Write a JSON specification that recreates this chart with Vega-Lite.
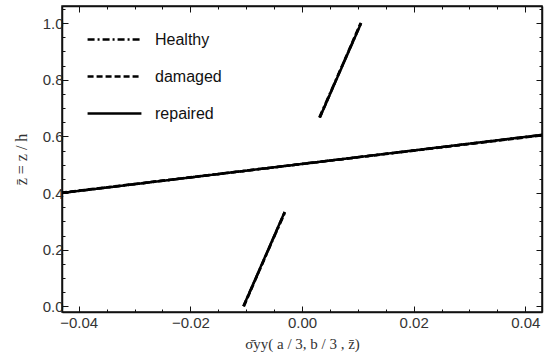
{
  "$schema": "https://vega.github.io/schema/vega-lite/v6.json",
  "width": 480,
  "height": 306,
  "autosize": {"type": "none"},
  "padding": {"left": 62, "top": 6, "right": 8, "bottom": 43},
  "background": "white",
  "config": {
    "view": {"stroke": "#111", "strokeWidth": 1.5},
    "axis": {"labelFont": "Liberation Sans", "labelFontSize": 15, "labelColor": "#333", "domainColor": "#111", "domainWidth": 1.5, "tickColor": "#111", "grid": false}
  },
  "data": {"values": [
    {"series": "Healthy", "seg": 1, "x": -0.0105, "z": 0},
    {"series": "Healthy", "seg": 1, "x": -0.0030, "z": 0.3333},
    {"series": "Healthy", "seg": 2, "x": -0.0712, "z": 0.3333},
    {"series": "Healthy", "seg": 2, "x": 0.0690, "z": 0.6667},
    {"series": "Healthy", "seg": 3, "x": 0.0031, "z": 0.6667},
    {"series": "Healthy", "seg": 3, "x": 0.0106, "z": 1.0},
    {"series": "damaged", "seg": 1, "x": -0.0104, "z": 0},
    {"series": "damaged", "seg": 1, "x": -0.0031, "z": 0.3333},
    {"series": "damaged", "seg": 2, "x": -0.0720, "z": 0.3333},
    {"series": "damaged", "seg": 2, "x": 0.0700, "z": 0.6667},
    {"series": "damaged", "seg": 3, "x": 0.0032, "z": 0.6667},
    {"series": "damaged", "seg": 3, "x": 0.0105, "z": 1.0},
    {"series": "repaired", "seg": 1, "x": -0.0105, "z": 0},
    {"series": "repaired", "seg": 1, "x": -0.0031, "z": 0.3333},
    {"series": "repaired", "seg": 2, "x": -0.0710, "z": 0.3333},
    {"series": "repaired", "seg": 2, "x": 0.0688, "z": 0.6667},
    {"series": "repaired", "seg": 3, "x": 0.0032, "z": 0.6667},
    {"series": "repaired", "seg": 3, "x": 0.0106, "z": 1.0}
  ]},
  "layer": [
    {
      "mark": {"type": "line", "clip": true, "color": "black", "strokeWidth": 2.5},
      "encoding": {
        "x": {"field": "x", "type": "quantitative",
          "scale": {"domain": [-0.043, 0.043], "nice": false, "zero": false},
          "axis": {"orient": "bottom", "title": "σ̄yy( a / 3,  b / 3 , z̄)", "titleFont": "Liberation Serif", "titleFontSize": 15, "titleFontWeight": "normal", "titleColor": "#333", "titlePadding": 3,
            "values": [-0.04,-0.035,-0.03,-0.025,-0.02,-0.015,-0.01,-0.005,0,0.005,0.01,0.015,0.02,0.025,0.03,0.035,0.04],
            "labelExpr": "abs(round(datum.value*1000)) % 20 == 0 ? format(datum.value, '.2f') : ''",
            "tickSize": {"condition": {"test": "abs(round(datum.value*1000)) % 20 == 0", "value": -6}, "value": -3},
            "labelPadding": 9, "labelFlush": false, "labelOverlap": false}},
        "y": {"field": "z", "type": "quantitative",
          "scale": {"domain": [-0.02, 1.06], "nice": false, "zero": false},
          "axis": {"orient": "left", "title": "z̄ = z / h", "titleFont": "Liberation Serif", "titleFontSize": 16, "titleFontWeight": "normal", "titleColor": "#333", "titlePadding": 13,
            "values": [0,0.05,0.1,0.15,0.2,0.25,0.3,0.35,0.4,0.45,0.5,0.55,0.6,0.65,0.7,0.75,0.8,0.85,0.9,0.95,1.0,1.05],
            "labelExpr": "round(datum.value*100) % 20 == 0 ? format(datum.value, '.1f') : ''",
            "tickSize": {"condition": {"test": "round(datum.value*100) % 20 == 0", "value": -6}, "value": -3},
            "labelPadding": 5, "labelOverlap": false}},
        "detail": {"field": "seg"},
        "strokeDash": {"field": "series", "type": "nominal",
          "scale": {"domain": ["Healthy", "damaged", "repaired"], "range": [[7,3,2,3], [6,3], [1,0]]},
          "legend": {"title": null, "orient": "none", "legendX": 24, "legendY": 5, "symbolType": "stroke", "symbolSize": 2900, "symbolStrokeWidth": 2.5, "symbolStrokeColor": "black", "labelFont": "Liberation Sans", "labelFontSize": 16, "labelColor": "#111", "labelOffset": 12, "rowPadding": -8}}
      }
    },
    {
      "mark": {"type": "line", "clip": true, "strokeOpacity": 0},
      "encoding": {
        "x": {"field": "x", "type": "quantitative",
          "axis": {"orient": "top", "title": null, "labels": false,
            "values": [-0.04,-0.035,-0.03,-0.025,-0.02,-0.015,-0.01,-0.005,0,0.005,0.01,0.015,0.02,0.025,0.03,0.035,0.04],
            "tickSize": {"condition": {"test": "abs(round(datum.value*1000)) % 20 == 0", "value": -6}, "value": -3}}},
        "y": {"field": "z", "type": "quantitative",
          "axis": {"orient": "right", "title": null, "labels": false,
            "values": [0,0.05,0.1,0.15,0.2,0.25,0.3,0.35,0.4,0.45,0.5,0.55,0.6,0.65,0.7,0.75,0.8,0.85,0.9,0.95,1.0,1.05],
            "tickSize": {"condition": {"test": "round(datum.value*100) % 20 == 0", "value": -6}, "value": -3}}},
        "detail": {"field": "seg"}
      }
    }
  ],
  "resolve": {"axis": {"x": "independent", "y": "independent"}}
}
